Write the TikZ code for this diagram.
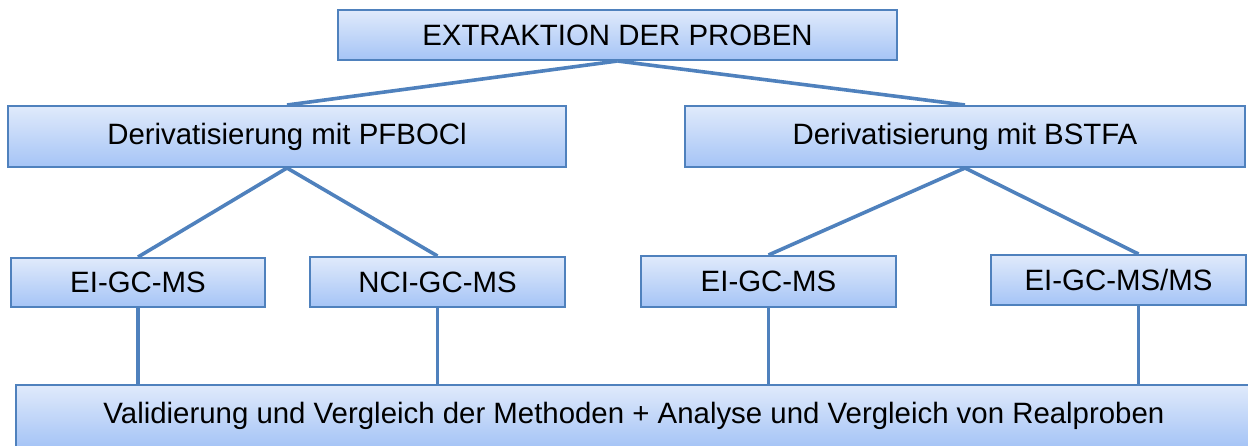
\documentclass[tikz,border=0pt]{standalone}
\usepackage{fontspec}
\setmainfont{Liberation Sans}
\definecolor{boxline}{HTML}{4F81BD}
\definecolor{boxtop}{HTML}{E0EAFB}
\definecolor{boxbot}{HTML}{A5C4F6}
\begin{document}
\begin{tikzpicture}[x=0.5pt, y=-0.5pt,
    box/.style={draw=boxline, line width=1pt, top color=boxtop, bottom color=boxbot,
        inner sep=0pt, font=\fontsize{14.7}{17}\selectfont},
    link/.style={draw=boxline, line width=1.8pt}]
    \useasboundingbox (0, 0) rectangle (1248, 445);
    \clip (0, 0) rectangle (1248, 445);
    % first level
    \node[box, minimum width=279.5pt, minimum height=25pt] (extr) at (617.5, 35) {EXTRAKTION DER PROBEN};
    % derivatisation
    \node[box, minimum width=279pt, minimum height=30.5pt] (pfb) at (287, 136.5) {Derivatisierung mit PFBOCl};
    \node[box, minimum width=280pt, minimum height=30.5pt] (bst) at (965, 136.5) {Derivatisierung mit BSTFA};
    % measurement
    \node[box, minimum width=127pt, minimum height=24.5pt] (eipf) at (138, 282.5) {EI-GC-MS};
    \node[box, minimum width=127.5pt, minimum height=25pt] (nci) at (437.5, 282) {NCI-GC-MS};
    \node[box, minimum width=127.5pt, minimum height=25.5pt] (eibs) at (768.5, 281.5) {EI-GC-MS};
    \node[box, minimum width=127.5pt, minimum height=25pt] (msms) at (1118.5, 280) {EI-GC-MS/MS};
    % final step
    \node[box, minimum width=618pt, minimum height=31pt] (valid) at (634, 416) {Validierung und Vergleich der Methoden + Analyse und Vergleich von Realproben};
    % connectors
    \draw[link] (extr.south) -- (pfb.north);
    \draw[link] (extr.south) -- (bst.north);
    \draw[link] (pfb.south) -- (eipf.north);
    \draw[link] (pfb.south) -- (nci.north);
    \draw[link] (bst.south) -- (eibs.north);
    \draw[link] (bst.south) -- ([xshift=10pt]msms.north);
    \draw[link] (eipf.south) -- (eipf.south |- valid.north);
    \draw[link] (nci.south) -- (nci.south |- valid.north);
    \draw[link] (eibs.south) -- (eibs.south |- valid.north);
    \draw[link] ([xshift=10pt]msms.south) -- ([xshift=10pt]msms.south |- valid.north);
\end{tikzpicture}
\end{document}
